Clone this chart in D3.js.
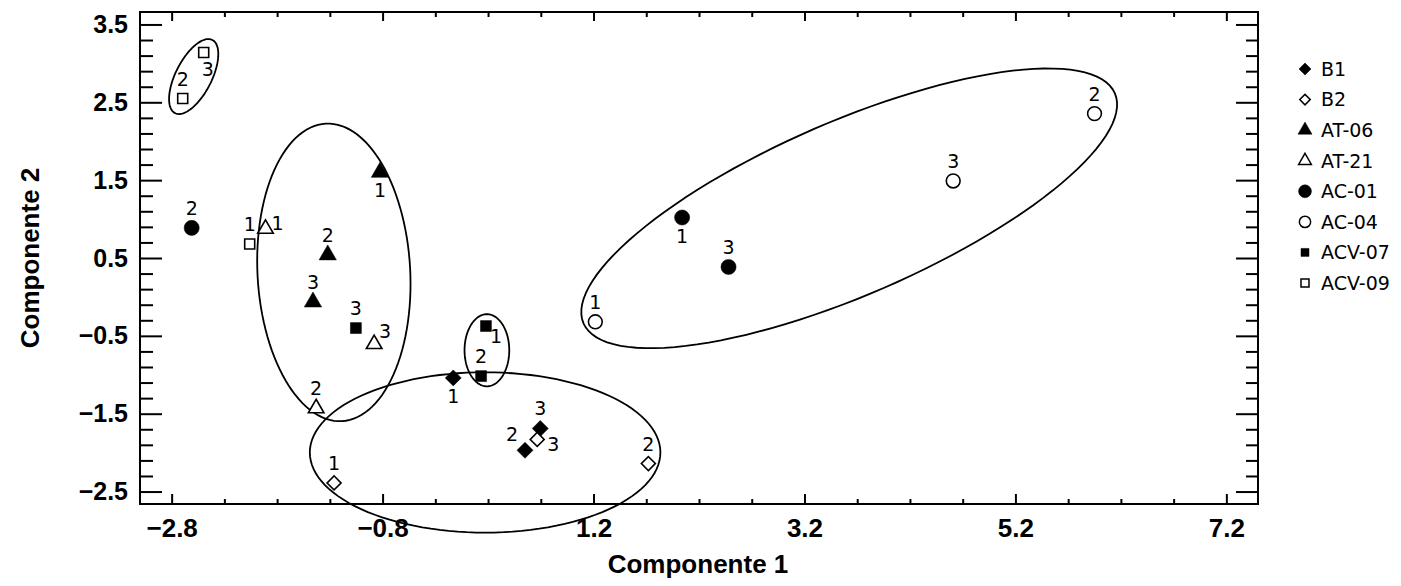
<!DOCTYPE html>
<html>
<head>
<meta charset="utf-8">
<script src="https://cdn.jsdelivr.net/npm/d3@7"></script>
<style>
  body { margin: 0; background: #fff; }
  svg { display: block; }
</style>
</head>
<body>
<svg width="1401" height="586"></svg>
<script>
// series names, in legend order
var seriesNames = ['B1', 'B2', 'AT-06', 'AT-21', 'AC-01', 'AC-04', 'ACV-07', 'ACV-09'];

// replicate numbers (same for every series)
var reps = ['1', '2', '3'];

// Componente 1 / Componente 2 scores, one array per series (reps 1,2,3)
var b1X = [-0.13, 0.55, 0.695];
var b1Y = [-1.04, -1.97, -1.69];
var b2X = [-1.26, 1.72, 0.666];
var b2Y = [-2.39, -2.14, -1.83];
var at06X = [-0.825, -1.32, -1.46];
var at06Y = [1.6, 0.54, -0.065];
var at21X = [-1.91, -1.43, -0.88];
var at21Y = [0.875, -1.43, -0.605];
var ac01X = [2.04, -2.61, 2.48];
var ac01Y = [1.02, 0.887, 0.385];
var ac04X = [1.217, 5.95, 4.61];
var ac04Y = [-0.32, 2.355, 1.49];
var acv07X = [0.18, 0.134, -1.053];
var acv07Y = [-0.374, -1.017, -0.40];
var acv09X = [-2.06, -2.695, -2.496];
var acv09Y = [0.68, 2.548, 3.14];

// where the replicate number sits next to each point
var b1Side = ['b', 'tl', 't'];
var b2Side = ['t', 't', 'rb'];
var at06Side = ['b', 't', 't'];
var at21Side = ['r', 't', 'tr'];
var ac01Side = ['b', 't', 't'];
var ac04Side = ['t', 't', 't'];
var acv07Side = ['br', 't', 't'];
var acv09Side = ['t', 't', 'bs'];

// group ellipses: centre and two conjugate semi-axes, in data units
var ellipseCenter = [[3.624, 1.138], [-2.591, 2.831], [-1.262, 0.315], [0.189, -0.685], [0.172, -1.998]];
var ellipseU = [[2.519, 1.477], [0.177, 0.47], [-0.076, 1.911], [0, 0.463], [1.662, 0]];
var ellipseV = [[0.327, -1.023], [0.152, -0.105], [0.723, 0.053], [0.212, 0], [0, 1.03]];

// axis ticks
var xMajor = [-2.8, -0.8, 1.2, 3.2, 5.2, 7.2];
var yMajor = [-2.5, -1.5, -0.5, 0.5, 1.5, 2.5, 3.5];

var svg = d3.select('svg');

var x = d3.scaleLinear().domain([-3.1, 7.5]).range([140, 1258]);
var y = d3.scaleLinear().domain([-2.66, 3.66]).range([504, 12]);

var xMinor = d3.range(-2.8, 7.5, 0.5).filter(function(v) {
  return !xMajor.some(function(m) { return Math.abs(m - v) < 1e-6; });
});
var yMinor = d3.range(-2.5, 3.6, 0.2).filter(function(v) {
  return !yMajor.some(function(m) { return Math.abs(m - v) < 1e-6; });
});

var fmt = d3.format('.1f');

// ---- axes (ticks point inward) ----
function drawAxis(axis, transform, labels) {
  var g = svg.append('g').attr('transform', transform).call(axis);
  g.select('.domain').remove();
  g.selectAll('line').attr('stroke', '#000').attr('stroke-width', 2);
  if (!labels) g.selectAll('text').remove();
  return g;
}

var gx = drawAxis(d3.axisBottom(x).tickValues(xMajor).tickSize(-10).tickPadding(15).tickFormat(fmt), 'translate(0,504)', true);
drawAxis(d3.axisBottom(x).tickValues(xMinor).tickSize(-5), 'translate(0,504)', false);
drawAxis(d3.axisTop(x).tickValues(xMajor).tickSize(-9), 'translate(0,12)', false);
drawAxis(d3.axisTop(x).tickValues(xMinor).tickSize(-5), 'translate(0,12)', false);

var gy = drawAxis(d3.axisLeft(y).tickValues(yMajor).tickSize(-22).tickPadding(12).tickFormat(fmt), 'translate(140,0)', true);
drawAxis(d3.axisLeft(y).tickValues(yMinor).tickSize(-13), 'translate(140,0)', false);
drawAxis(d3.axisRight(y).tickValues(yMajor).tickSize(-22), 'translate(1258,0)', false);
drawAxis(d3.axisRight(y).tickValues(yMinor).tickSize(-12), 'translate(1258,0)', false);

gx.selectAll('text')
  .style('font-family', '"Liberation Sans", Arial, sans-serif')
  .style('font-weight', 'bold')
  .style('font-size', '26px')
  .attr('fill', '#000');
gy.selectAll('text')
  .style('font-family', '"Liberation Sans", Arial, sans-serif')
  .style('font-weight', 'bold')
  .style('font-size', '25px')
  .attr('fill', '#000');

// frame
svg.append('rect')
  .attr('x', x.range()[0])
  .attr('y', y.range()[1])
  .attr('width', x.range()[1] - x.range()[0])
  .attr('height', y.range()[0] - y.range()[1])
  .attr('fill', 'none')
  .attr('stroke', '#000')
  .attr('stroke-width', 2);

// axis titles
svg.append('text')
  .attr('x', 698)
  .attr('y', 573)
  .attr('text-anchor', 'middle')
  .style('font-family', '"Liberation Sans", Arial, sans-serif')
  .style('font-weight', 'bold')
  .style('font-size', '26px')
  .text('Componente 1');

svg.append('text')
  .attr('transform', 'translate(39,258) rotate(-90)')
  .attr('text-anchor', 'middle')
  .style('font-family', '"Liberation Sans", Arial, sans-serif')
  .style('font-weight', 'bold')
  .style('font-size', '26px')
  .text('Componente 2');

// ---- ellipses ----
var tSteps = d3.range(0, 361, 3).map(function(d) { return d * Math.PI / 180; });
var ellLine = d3.line()
  .x(function(p) { return x(p[0]); })
  .y(function(p) { return y(p[1]); })
  .curve(d3.curveLinearClosed);

ellipseCenter.forEach(function(c, i) {
  var u = ellipseU[i], v = ellipseV[i];
  var pts = tSteps.map(function(t) {
    return [c[0] + u[0] * Math.cos(t) + v[0] * Math.sin(t),
            c[1] + u[1] * Math.cos(t) + v[1] * Math.sin(t)];
  });
  svg.append('path')
    .attr('d', ellLine(pts))
    .attr('fill', 'none')
    .attr('stroke', '#000')
    .attr('stroke-width', 1.8);
});

// ---- markers ----
var shapes = {
  'B1': { type: d3.symbolSquare, size: 128, rot: 45, fill: true, legendSize: 72 },
  'B2': { type: d3.symbolSquare, size: 98, rot: 45, fill: false, legendSize: 55 },
  'AT-06': { type: d3.symbolTriangle, size: 130, rot: 0, fill: true, legendSize: 85 },
  'AT-21': { type: d3.symbolTriangle, size: 105, rot: 0, fill: false, legendSize: 70 },
  'AC-01': { type: d3.symbolCircle, size: 180, rot: 0, fill: true, legendSize: 130 },
  'AC-04': { type: d3.symbolCircle, size: 150, rot: 0, fill: false, legendSize: 100 },
  'ACV-07': { type: d3.symbolSquare, size: 120, rot: 0, fill: true, legendSize: 64 },
  'ACV-09': { type: d3.symbolSquare, size: 100, rot: 0, fill: false, legendSize: 64 }
};

var seriesData = {
  'B1': [b1X, b1Y, b1Side],
  'B2': [b2X, b2Y, b2Side],
  'AT-06': [at06X, at06Y, at06Side],
  'AT-21': [at21X, at21Y, at21Side],
  'AC-01': [ac01X, ac01Y, ac01Side],
  'AC-04': [ac04X, ac04Y, ac04Side],
  'ACV-07': [acv07X, acv07Y, acv07Side],
  'ACV-09': [acv09X, acv09Y, acv09Side]
};

// label offsets (dx, baseline dy) for each side code
var sideOffset = {
  t: [0, -13], b: [0, 25], tl: [-13, -9], rb: [16, 12],
  r: [12, 1], tr: [11, -6], br: [10, 17], bs: [4, 24]
};

var pointFont = '"DejaVu Sans", Verdana, sans-serif';

seriesNames.forEach(function(name) {
  var s = shapes[name];
  var d = seriesData[name];
  var pts = reps.map(function(r, i) {
    return { rep: r, x: d[0][i], y: d[1][i], side: d[2][i] };
  });
  var g = svg.append('g');
  g.selectAll('path')
    .data(pts)
    .enter()
    .append('path')
    .attr('d', d3.symbol().type(s.type).size(s.size))
    .attr('transform', function(p) {
      return 'translate(' + x(p.x) + ',' + y(p.y) + ') rotate(' + s.rot + ')';
    })
    .attr('fill', s.fill ? '#000' : '#fff')
    .attr('stroke', '#000')
    .attr('stroke-width', s.fill ? 0.5 : 1.6);

  g.selectAll('text')
    .data(pts)
    .enter()
    .append('text')
    .attr('x', function(p) { return x(p.x) + sideOffset[p.side][0]; })
    .attr('y', function(p) { return y(p.y) + sideOffset[p.side][1]; })
    .attr('text-anchor', 'middle')
    .style('font-family', pointFont)
    .style('font-size', '19px')
    .attr('fill', '#000')
    .text(function(p) { return p.rep; });
});

// ---- legend ----
var legendY = d3.scaleLinear().domain([0, seriesNames.length - 1]).range([69, 283]);
var legend = svg.append('g');
seriesNames.forEach(function(name, i) {
  var s = shapes[name];
  legend.append('path')
    .attr('d', d3.symbol().type(s.type).size(s.legendSize))
    .attr('transform', 'translate(1305,' + legendY(i) + ') rotate(' + s.rot + ')')
    .attr('fill', s.fill ? '#000' : '#fff')
    .attr('stroke', '#000')
    .attr('stroke-width', s.fill ? 0.5 : 1.5);
  legend.append('text')
    .attr('x', 1321)
    .attr('y', legendY(i))
    .attr('dy', '0.36em')
    .style('font-family', pointFont)
    .style('font-size', '19px')
    .attr('fill', '#000')
    .text(name);
});
</script>
</body>
</html>
